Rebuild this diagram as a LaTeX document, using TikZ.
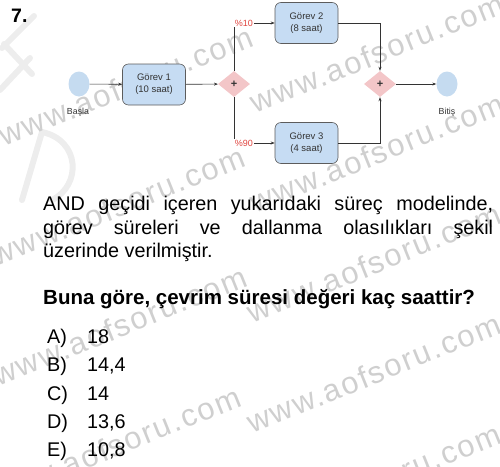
\documentclass[tikz,border=0pt]{standalone}
\usepackage{fontspec}
\setmainfont{Liberation Sans}
\usetikzlibrary{shapes.geometric,arrows.meta}
\definecolor{boxblue}{HTML}{C6DCF3}
\definecolor{circblue}{HTML}{C5DBF0}
\definecolor{gatepink}{HTML}{F3C6C8}
\definecolor{lblred}{HTML}{E0453F}
\definecolor{wmgray}{HTML}{CFCFCF}
\definecolor{lineg}{HTML}{333333}
\tikzset{
  task/.style={draw=lineg!80, fill=boxblue, rounded corners=6pt, line width=0.6pt,
    minimum width=63pt, minimum height=41pt, align=center, text=lineg,
    font=\fontsize{9.5}{12}\selectfont, inner sep=0pt},
  evt/.style={ellipse, fill=circblue, minimum width=21pt, minimum height=25pt, inner sep=0pt},
  gate/.style={diamond, fill=gatepink, minimum width=32pt, minimum height=26pt, aspect=1.25,
    inner sep=0pt, font=\fontsize{11}{11}\selectfont\bfseries, text=lineg},
  flow/.style={draw=lineg, line width=0.6pt, -{Stealth[length=4pt,width=3pt]}},
  plbl/.style={text=lblred, font=\fontsize{9}{10}\selectfont, fill=white, inner sep=0.6pt},
  evlbl/.style={text=lineg, font=\fontsize{8.8}{10}\selectfont},
  body/.style={anchor=base west, inner sep=0pt, font=\fontsize{19.8}{22}\selectfont},
  wm/.style={anchor=base west, inner sep=0pt, text=wmgray, rotate=22,
    font=\fontsize{31}{31}\selectfont\addfontfeature{LetterSpace=6}},
  logo/.style={draw=black!7, line width=6pt, line cap=round}
}
\begin{document}
\begin{tikzpicture}[x=1pt,y=-1pt]
\useasboundingbox (0,0) rectangle (500,466);
% faint logo
\draw[logo] (2,48) -- (34,16);
\draw[logo] (4,44) -- (32,74);
\draw[logo] (0,90) -- (30,58);
\draw[logo] (42,132) .. controls (80,140) and (82,185) .. (52,200);
\draw[logo] (42,132) -- (22,200);
% watermarks
\node[wm] (w1) at (4,147) {www.aofsoru.com};
\node[wm] (w2) at (-4,267) {www.aofsoru.com};
\node[wm] (w3) at (-2,387) {www.aofsoru.com};
\node[wm] (w4) at (-8,507) {www.aofsoru.com};
\node[wm] (w5) at (255,114) {www.aofsoru.com};
\node[wm] (w6) at (255,214) {www.aofsoru.com};
\node[wm] (w7) at (252,324) {www.aofsoru.com};
\node[wm] (w8) at (252,434) {www.aofsoru.com};
\node[wm] (w9) at (252,544) {www.aofsoru.com};
% number
\node[anchor=base west, inner sep=0pt, font=\fontsize{19.5}{22}\selectfont\bfseries] (num) at (11,22) {7.};
% diagram
\node[evt] (start) at (79,84) {};
\node[evlbl] (startl) at (78,112) {Başla};
\node[task] (g1) at (154,84.5) {Görev 1\\(10 saat)};
\node[gate] (d1) at (234,84) {+};
\node[task] (g2) at (306.5,23) {Görev 2\\(8 saat)};
\node[task] (g3) at (306.5,143) {Görev 3\\(4 saat)};
\node[gate] (d2) at (380,84) {+};
\node[evt] (stop) at (447,84) {};
\node[evlbl] (stopl) at (447,112) {Bitiş};
\draw[flow] (start) -- (g1);
\draw[flow] (g1) -- (d1);
\draw[flow] (d1.north) |- (g2.west) node[plbl, pos=0.5, anchor=west] (p10) {\%10};
\draw[flow] (d1.south) |- (g3.west) node[plbl, pos=0.5, anchor=west] (p90) {\%90};
\draw[flow] (g2.east) -| (d2.north);
\draw[flow] (g3.east) -| (d2.south);
\draw[flow] (d2) -- (stop);
% text
\node[body] (t1) at (43,210.5) {\makebox[450pt][s]{AND geçidi içeren yukarıdaki süreç modelinde,}};
\node[body] (t2) at (43,234) {\makebox[450pt][s]{görev süreleri ve dallanma olasılıkları şekil}};
\node[body] (t3) at (43,257.5) {üzerinde verilmiştir.};
\node[body, font=\fontsize{20.5}{22}\selectfont\bfseries] (q) at (43,304) {Buna göre, çevrim süresi değeri kaç saattir?};
\foreach \l/\v [count=\i] in {A)/18, B)/14{,}4, C)/14, D)/13{,}6, E)/10{,}8}{
  \node[body] (o\i) at (47,{343.5+28.3*(\i-1)}) {\l};
  \node[body] (v\i) at (87,{343.5+28.3*(\i-1)}) {\v};
}
\end{tikzpicture}
\end{document}
